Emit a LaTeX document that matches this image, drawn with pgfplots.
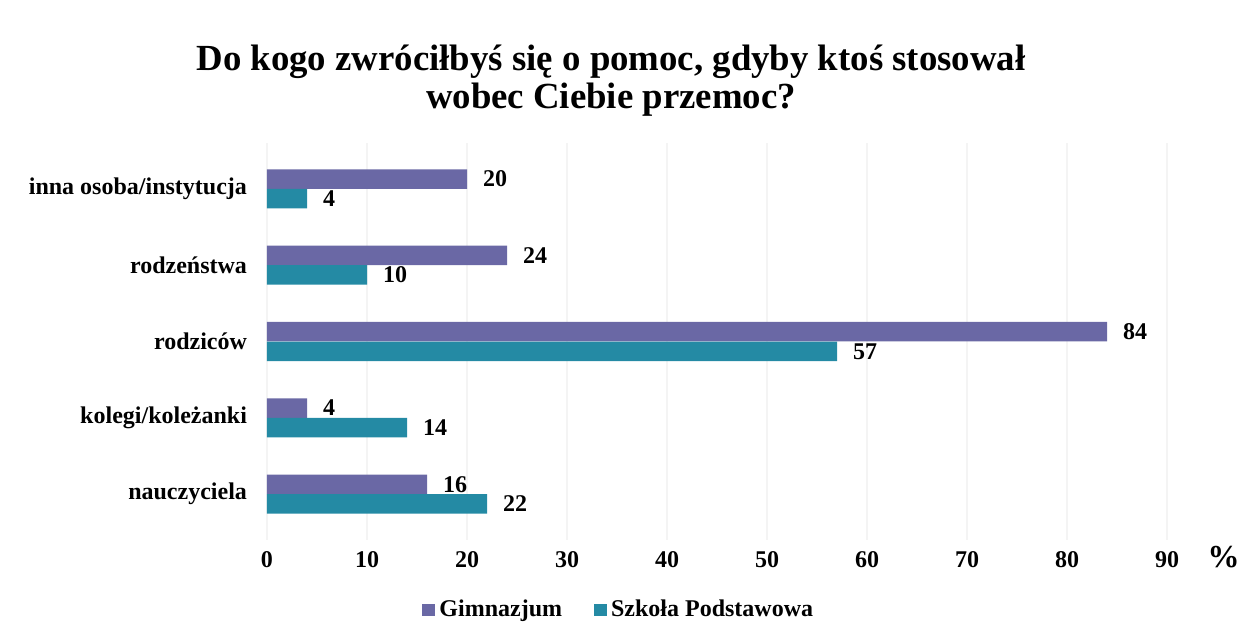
\documentclass[border=0pt]{standalone}
\usepackage{pgfplots}
\pgfplotsset{compat=1.18}
\usepackage{fontspec}
\setmainfont{Liberation Serif}
\definecolor{gimn}{RGB}{106,104,165}
\definecolor{szp}{RGB}{36,138,164}
\begin{document}
\begin{tikzpicture}
\path[use as bounding box] (0,0) rectangle (623.5pt,320.5pt);
\begin{axis}[
  at={(133.5pt,50.5pt)}, anchor=south west,
  scale only axis, width=450pt, height=198.5pt,
  xmin=0, xmax=90, ymin=-0.6, ymax=4.6,
  xtick={0,10,...,90},
  ytick={0,1,2,3,4},
  yticklabels={nauczyciela,kolegi/koleżanki,rodziców,rodzeństwa,inna osoba/instytucja},
  major tick length=0pt,
  axis line style={draw=none},
  xmajorgrids, grid style={gray!9, line width=0.6pt},
  /pgf/number format/assume math mode=true,
  tick label style={font=\fontsize{12}{14}\selectfont\bfseries},
  yticklabel style={xshift=-6.5pt},
  xticklabel style={yshift=-2pt},
  xbar, bar width=0.255,
  clip=false,
  nodes near coords,
  every node near coord/.append style={font=\fontsize{12}{14}\selectfont\bfseries, text=black, xshift=4.5pt},
  legend style={at={(rel axis cs:0.392,-0.176)}, anchor=center, draw=none, fill=none,
    legend columns=2, font=\fontsize{12}{14}\selectfont\bfseries,
    /tikz/every even column/.append style={column sep=14pt}},
  legend image code/.code={\fill[#1] (0pt,-3pt) rectangle (6.5pt,3pt);},
]
\addplot[fill=gimn, draw=none, bar shift=0.128] coordinates {(16,0) (4,1) (84,2) (24,3) (20,4)};
\addplot[fill=szp, draw=none, bar shift=-0.128] coordinates {(22,0) (14,1) (57,2) (10,3) (4,4)};
\legend{Gimnazjum, Szkoła Podstawowa}
\node[font=\fontsize{16}{17}\selectfont\bfseries, anchor=center] at (rel axis cs:1.063,-0.043) {\%};
\end{axis}
\node[font=\fontsize{18.4}{19}\selectfont\bfseries, align=center] at (305.5pt,280pt)
  {Do kogo zwróciłbyś się o pomoc, gdyby ktoś stosował\\wobec Ciebie przemoc?};
\end{tikzpicture}
\end{document}
